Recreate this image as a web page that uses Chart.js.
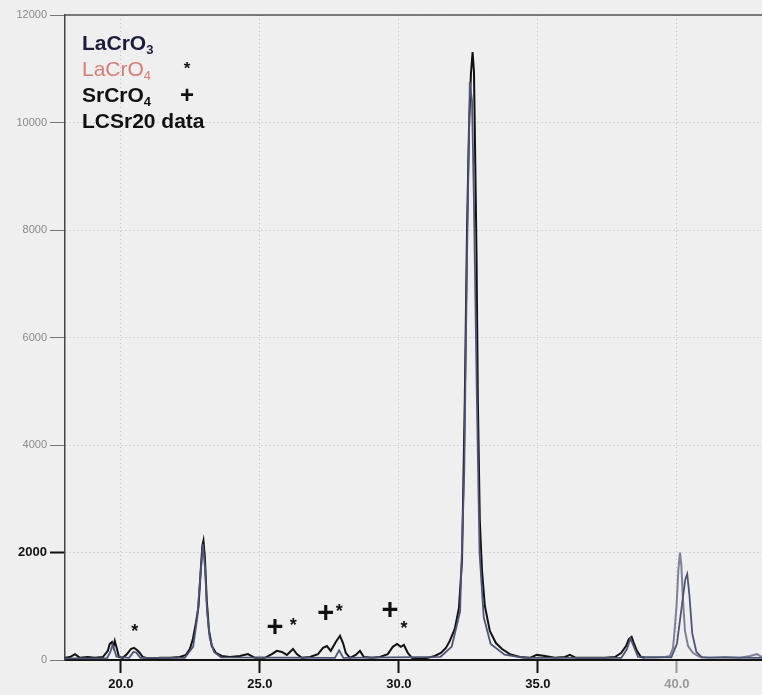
<!DOCTYPE html>
<html>
<head>
<meta charset="utf-8">
<script src="https://cdn.jsdelivr.net/npm/chart.js@4/dist/chart.umd.min.js"></script>
<style>
  html, body { margin: 0; padding: 0; background: #efefef; }
  #wrap { position: relative; width: 762px; height: 695px; }
  canvas { display: block; }
  .key { position: absolute; left: 82px; top: 30px; font: bold 21px "Liberation Sans", Arial, sans-serif; line-height: 26px; color: #111; }
  .key div { position: relative; white-space: nowrap; height: 26px; }
  .key sub { font-size: 13px; vertical-align: -4px; line-height: 0; }
  .key .mark { position: absolute; left: 105px; transform: translateX(-50%); }
</style>
</head>
<body>
<div id="wrap">
  <canvas id="xrd" width="762" height="695"></canvas>
  <div class="key">
    <div style="color:#1c1c3c">LaCrO<sub>3</sub></div>
    <div style="color:#d27f78;font-weight:normal">LaCrO<sub>4</sub><span class="mark" style="color:#111;font-weight:bold;font-size:17px">*</span></div>
    <div>SrCrO<sub>4</sub><span class="mark" style="font-size:24px">+</span></div>
    <div>LCSr20 data</div>
  </div>
</div>
<script>
// LCSr20 measured pattern (2-theta, counts)
const dataTheta = [
  17.99, 18.17, 18.35, 18.53, 18.81, 19.06, 19.35, 19.53, 19.60, 19.68, 19.73, 19.78, 19.86, 19.93,
  20.07, 20.22, 20.36, 20.47, 20.58, 20.68, 20.79, 21.04, 21.40, 21.76, 22.12, 22.34, 22.48, 22.59,
  22.70, 22.79, 22.86, 22.93, 22.97, 23.02, 23.09, 23.17, 23.27, 23.42, 23.63, 23.92, 24.28, 24.57,
  24.82, 25.18, 25.43, 25.61, 25.79, 25.97, 26.19, 26.33, 26.51, 26.80, 27.09, 27.27, 27.41, 27.55,
  27.73, 27.88, 27.99, 28.09, 28.24, 28.45, 28.60, 28.74, 29.03, 29.32, 29.60, 29.78, 29.93, 30.07,
  30.18, 30.32, 30.47, 30.76, 31.04, 31.29, 31.51, 31.69, 31.83, 32.01, 32.16, 32.27, 32.37, 32.45,
  32.52, 32.59, 32.65, 32.70, 32.73, 32.79, 32.84, 32.91, 32.99, 33.09, 33.27, 33.49, 33.71, 33.99,
  34.35, 34.71, 34.96, 35.25, 35.61, 35.97, 36.15, 36.37, 36.87, 37.41, 37.77, 37.99, 38.17, 38.27,
  38.37, 38.45, 38.56, 38.71, 38.85, 39.21, 39.57, 39.75, 39.86, 39.93, 39.99, 40.05, 40.11, 40.16,
  40.22, 40.29, 40.40, 40.58, 40.83, 41.19, 41.73, 42.27, 42.63, 42.88, 43.06
]
const dataCounts = [
  40, 55, 110, 40, 55, 40, 55, 170, 300, 335, 240, 355, 205, 55,
  40, 110, 205, 225, 185, 130, 55, 20, 40, 40, 55, 95, 205, 390,
  690, 990, 1570, 2125, 2220, 1920, 1100, 540, 260, 130, 75, 55, 75, 110,
  40, 40, 110, 170, 150, 95, 205, 110, 40, 55, 110, 225, 260, 170,
  335, 450, 315, 130, 40, 95, 170, 55, 40, 55, 110, 245, 300, 245,
  280, 130, 40, 20, 40, 75, 130, 225, 355, 580, 970, 1850, 4830, 8005,
  9870, 10900, 11310, 10950, 9870, 7630, 4830, 2595, 1660, 1010, 540, 315, 205, 110,
  55, 40, 95, 75, 40, 55, 95, 40, 40, 40, 55, 130, 260, 390,
  430, 315, 170, 55, 40, 40, 55, 75, 225, 635, 1045, 1660, 2000, 1755,
  1100, 540, 260, 130, 55, 40, 55, 40, 75, 110, 55
]

// LaCrO3 reference pattern
const refTheta = [
  17.99, 19.50, 19.62, 19.70, 19.76, 19.84, 20.30, 20.45, 20.55, 20.70, 22.30, 22.60, 22.75, 22.85,
  22.95, 23.03, 23.10, 23.20, 23.35, 23.60, 27.70, 27.85, 28.00, 31.50, 31.90, 32.20, 32.35, 32.45,
  32.55, 32.63, 32.70, 32.80, 32.90, 33.05, 33.30, 33.80, 34.50, 38.00, 38.20, 38.33, 38.45, 38.60,
  39.80, 40.00, 40.15, 40.30, 40.37, 40.45, 40.55, 40.70, 40.90, 43.06
]
const refCounts = [
  30, 30, 150, 280, 200, 60, 40, 150, 140, 40, 40, 250, 800, 1500,
  2150, 1700, 900, 400, 150, 50, 40, 180, 40, 60, 250, 900, 3500, 7500,
  10750, 10400, 8500, 5000, 2000, 800, 300, 100, 40, 40, 200, 400, 250, 60,
  50, 300, 900, 1500, 1600, 1200, 500, 150, 50, 40
]

// phase markers
const starTheta = [20.50, 26.20, 27.85, 30.18]
const starCounts = [578, 697, 946, 634]
const plusTheta = [25.54, 27.37, 29.68]
const plusCounts = [603, 858, 914]

// axes
const xTicks = [20, 25, 30, 35, 40]
const yTicks = [0, 2000, 4000, 6000, 8000, 10000, 12000]

const toPoints = (xs, ys) => xs.map((x, i) => ({ x, y: ys[i] }))

const frame = {
  id: 'frame',
  afterDraw(chart) {
    const { ctx, chartArea: a } = chart
    ctx.save()
    ctx.strokeStyle = '#555'
    ctx.lineWidth = 1.5
    ctx.beginPath()
    ctx.moveTo(a.left, a.top)
    ctx.lineTo(a.right, a.top)
    ctx.stroke()
    ctx.restore()
  },
}

const markers = {
  id: 'markers',
  afterDatasetsDraw(chart) {
    const { ctx, scales: { x, y } } = chart
    ctx.save()
    ctx.fillStyle = '#111'
    ctx.textAlign = 'center'
    ctx.textBaseline = 'middle'
    ctx.font = 'bold 29px "Liberation Sans", Arial, sans-serif'
    plusTheta.forEach((t, i) => ctx.fillText('+', x.getPixelForValue(t), y.getPixelForValue(plusCounts[i])))
    ctx.font = 'bold 18px "Liberation Sans", Arial, sans-serif'
    starTheta.forEach((t, i) => ctx.fillText('*', x.getPixelForValue(t), y.getPixelForValue(starCounts[i]) + 3))
    ctx.restore()
  },
}

const fontFam = '"Liberation Sans", Arial, sans-serif'

new Chart(document.getElementById('xrd'), {
  type: 'line',
  data: {
    datasets: [
      {
        label: 'LaCrO3',
        data: toPoints(refTheta, refCounts),
        borderColor: '#4e5476',
        borderWidth: 1.8,
        pointRadius: 0,
        tension: 0,
      },
      {
        label: 'LCSr20 data',
        data: toPoints(dataTheta, dataCounts),
        borderColor: '#111',
        borderWidth: 2,
        pointRadius: 0,
        tension: 0,
        segment: { borderColor: c => c.p0.parsed.x >= 38.85 ? '#7d8196' : undefined },
      },
    ],
  },
  options: {
    responsive: false,
    animation: false,
    layout: { padding: { top: 15, right: 0, bottom: 0, left: 0 } },
    plugins: { legend: { display: false }, tooltip: { enabled: false } },
    scales: {
      x: {
        type: 'linear',
        min: 17.99,
        max: 43.06,
        afterBuildTicks: s => { s.ticks = xTicks.map(v => ({ value: v })) },
        afterFit: s => { s.height = 35 },
        border: { color: '#111', width: 2, dash: [1, 3] },
        grid: {
          color: 'rgba(140,140,140,0.45)',
          tickColor: c => c.tick && c.tick.value === 40 ? '#999' : '#111',
          tickLength: 13,
          tickWidth: 2,
          tickBorderDash: [],
        },
        ticks: {
          padding: 4,
          maxRotation: 0,
          color: c => c.tick.value === 40 ? '#999' : '#111',
          font: { family: fontFam, size: 13, weight: 'bold' },
          callback: v => v.toFixed(1),
        },
      },
      y: {
        min: 0,
        max: 12000,
        afterBuildTicks: s => { s.ticks = yTicks.map(v => ({ value: v })) },
        afterFit: s => { s.width = 65 },
        border: { color: '#444', width: 1.5, dash: [1, 3] },
        grid: {
          color: 'rgba(140,140,140,0.5)',
          tickColor: c => c.tick && c.tick.value === 2000 ? '#111' : '#777',
          tickLength: 15,
          tickWidth: c => c.tick && c.tick.value === 2000 ? 2 : 1,
          tickBorderDash: [],
        },
        ticks: {
          padding: 3,
          color: c => c.tick.value === 2000 ? '#111' : '#8a8a8a',
          font: c => c.tick && c.tick.value === 2000
            ? { family: fontFam, size: 13, weight: 'bold' }
            : { family: fontFam, size: 11 },
          callback: v => String(v),
        },
      },
    },
  },
  plugins: [frame, markers],
})
</script>
</body>
</html>
